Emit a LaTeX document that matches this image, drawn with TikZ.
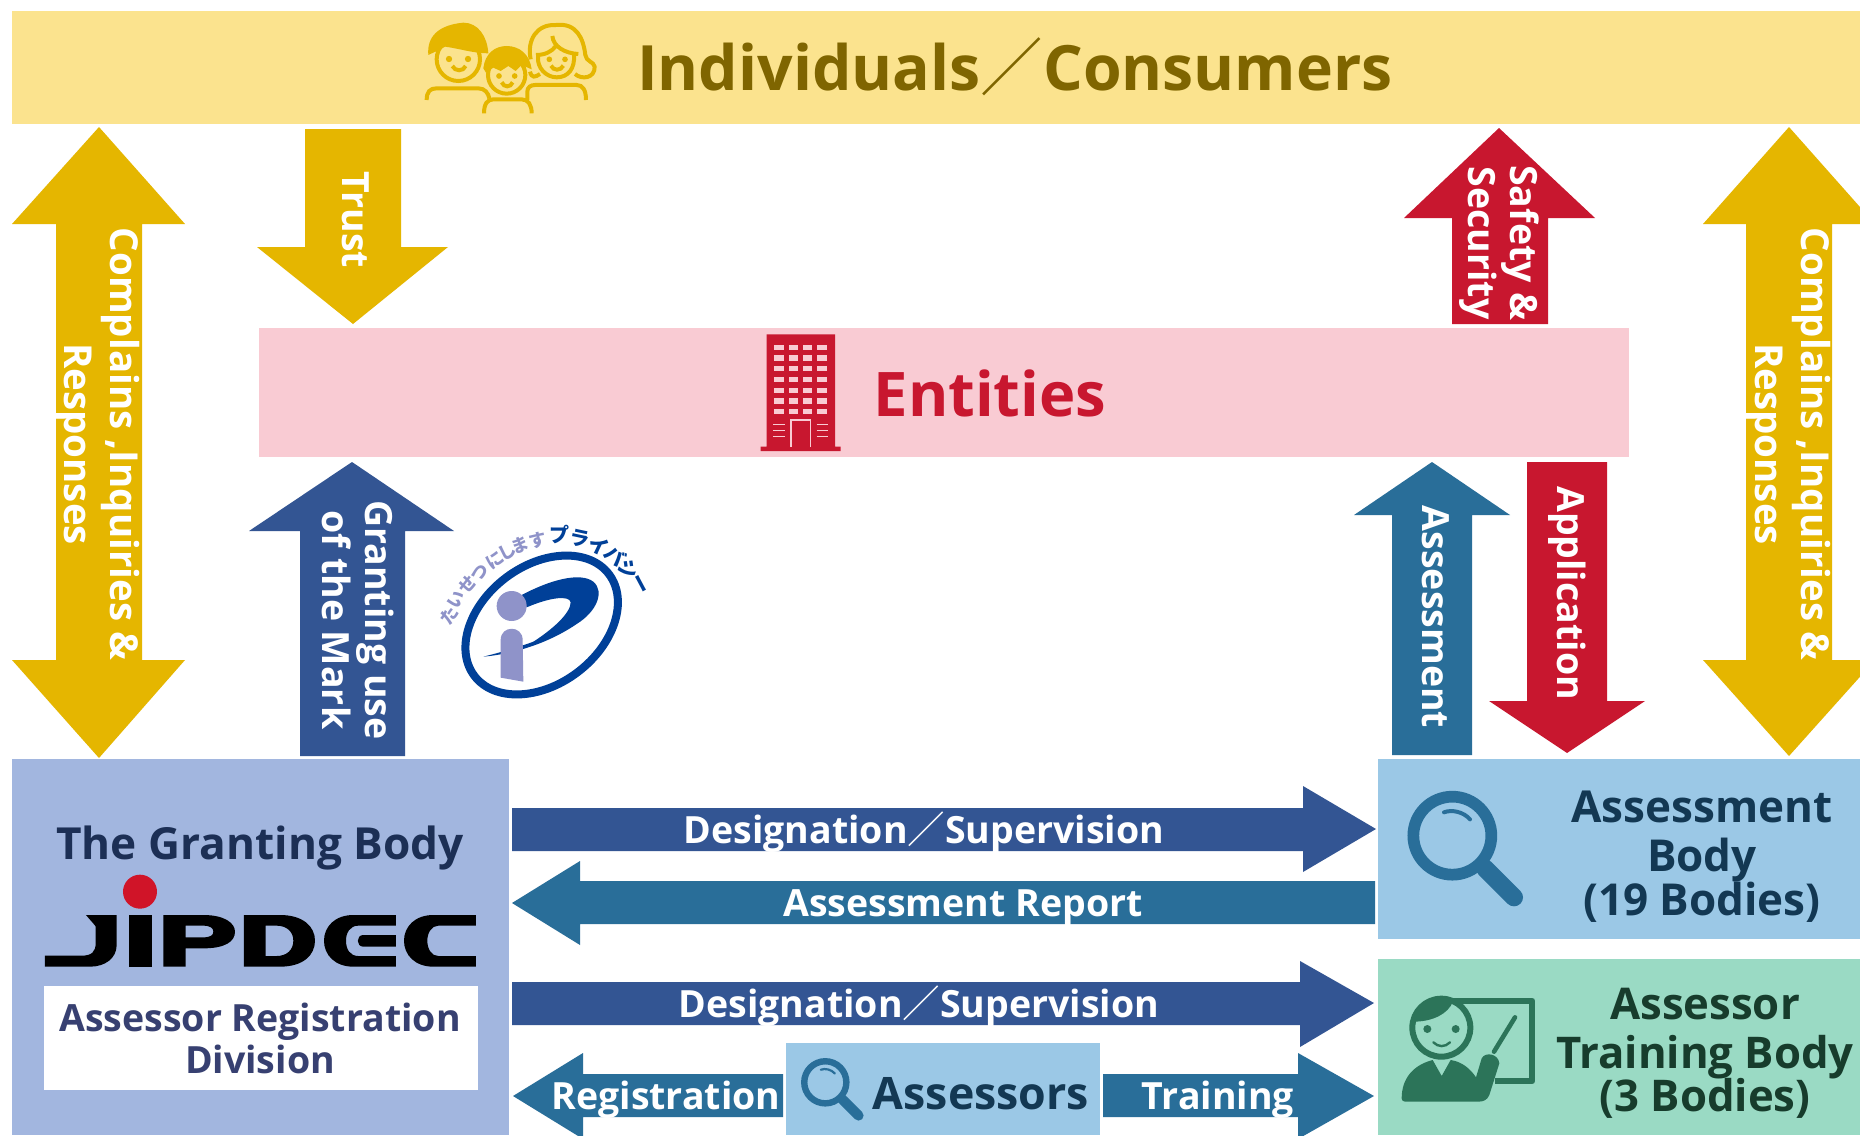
\documentclass[tikz,border=0pt]{standalone}
\usepackage{fontspec}
\setmainfont{Open Sans}
\newfontfamily\cjk{Noto Sans CJK JP}
\definecolor{cband}{HTML}{FBE38E}
\definecolor{cbandtx}{HTML}{7F6500}
\definecolor{cgold}{HTML}{E5B600}
\definecolor{cpink}{HTML}{F9CBD3}
\definecolor{cred}{HTML}{C8172F}
\definecolor{cnavy}{HTML}{335593}
\definecolor{cteal}{HTML}{296E99}
\definecolor{cgrant}{HTML}{A2B6DF}
\definecolor{cassess}{HTML}{9BC8E6}
\definecolor{ctrain}{HTML}{9ADAC4}
\definecolor{cgreen}{HTML}{2C7459}
\definecolor{tgrant}{HTML}{1C2F55}
\definecolor{treg}{HTML}{374071}
\definecolor{tassess}{HTML}{133853}
\definecolor{ttrain}{HTML}{173C2C}
\definecolor{pblue}{HTML}{004098}
\definecolor{ppurple}{HTML}{8F93C9}
\newcommand{\fsz}[1]{\fontsize{#1}{#1}\selectfont\bfseries}
\newcommand{\zslash}{{\cjk\mdseries ／}}
\tikzset{
  panel/.style={anchor=north west,inner sep=0pt,outer sep=0pt},
  lab/.style={inner sep=0pt,outer sep=0pt,align=center,text depth=0pt},
  wlab/.style={lab,text=white,font=\fsz{37.5}},
  vlab/.style={wlab,rotate=-90},
}
\begin{document}
\begin{tikzpicture}[x=1pt,y=-1pt]
\clip (0,0) rectangle (1860,1135);
\fill[white] (0,0) rectangle (1860,1135);
% panels
\node[panel,fill=cband,minimum width=1848pt,minimum height=113pt] (band) at (12,11) {};
\node[panel,fill=cpink,minimum width=1370pt,minimum height=129pt] (entitiesbox) at (259,328) {};
\node[panel,fill=cgrant,minimum width=497pt,minimum height=376pt] (grant) at (12,759) {};
\node[panel,fill=cassess,minimum width=482pt,minimum height=180pt] (assess) at (1378,759) {};
\node[panel,fill=ctrain,minimum width=482pt,minimum height=176pt] (train) at (1378,959) {};
\node[panel,fill=cassess,minimum width=314pt,minimum height=92pt] (assessors) at (786,1043) {};
\node[panel,fill=white,minimum width=434pt,minimum height=104pt] (regbox) at (44,986) {};
% block arrows
\fill[cgold] (99,127)--(185,224)--(142,224)--(142,660)--(185,660)--(99,758)--(12,660)--(56,660)--(56,224)--(12,224)--cycle;
\fill[cgold] (1789,127)--(1875,224)--(1832,224)--(1832,660)--(1875,660)--(1789,756)--(1703,660)--(1746,660)--(1746,224)--(1703,224)--cycle;
\fill[cgold] (305,129)--(401,129)--(401,247)--(448,247)--(353,324)--(257,247)--(305,247)--cycle;
\fill[cred] (1499,128)--(1595,218)--(1548,218)--(1548,324)--(1452,324)--(1452,218)--(1404,218)--cycle;
\fill[cnavy] (352,462)--(454,531)--(405,531)--(405,756)--(300,756)--(300,531)--(249,531)--cycle;
\fill[cteal] (1432,462)--(1510,515)--(1472,515)--(1472,755)--(1392,755)--(1392,515)--(1354,515)--cycle;
\fill[cred] (1527,462)--(1607,462)--(1607,701)--(1645,701)--(1567,753)--(1489,701)--(1527,701)--cycle;
\fill[cnavy] (512,808)--(1303,808)--(1303,786)--(1376,829)--(1303,872)--(1303,851)--(512,851)--cycle;
\fill[cteal] (512,903)--(580,861)--(580,881)--(1375,881)--(1375,924)--(580,924)--(580,945)--cycle;
\fill[cnavy] (512,982)--(1300,982)--(1300,961)--(1374,1003)--(1300,1047)--(1300,1025)--(512,1025)--cycle;
\fill[cteal] (513,1096)--(583,1053)--(583,1074)--(783,1074)--(783,1117)--(583,1117)--(583,1139)--cycle;
\fill[cteal] (1103,1074)--(1298,1074)--(1298,1053)--(1374,1096)--(1298,1139)--(1298,1117)--(1103,1117)--cycle;
% family icon
\begin{scope}[shift={(400,0)},scale=1/3,cgold,line width=4pt,line cap=butt]
 \draw (175,178) circle (65);
 \fill (85,165) .. controls (80,110) and (115,75) .. (190,68) .. controls (235,68) and (262,110) .. (265,160) .. controls (220,160) and (175,145) .. (135,140) .. controls (120,150) and (105,155) .. (85,165) -- cycle;
 \fill (147,177) circle (9.5) (204,177) circle (9.5);
 \draw (157,198) .. controls (165,215) and (190,215) .. (197,198);
 \draw (80,300) .. controls (80,275) and (90,265) .. (110,265) -- (235,265) .. controls (255,265) and (265,280) .. (268,295);
 \draw[fill=cband] (320,225) circle (56);
 \fill (250,205) .. controls (255,160) and (285,138) .. (320,138) .. controls (360,138) and (390,165) .. (395,208) -- (365,195) -- (347,213) -- (325,198) -- (302,213) -- (280,203) -- (258,218) -- cycle;
 \fill (297,228) circle (8.5) (344,228) circle (8.5);
 \draw (305,247) .. controls (312,263) and (332,263) .. (338,247);
 \draw (252,340) .. controls (252,312) and (262,298) .. (280,298) -- (365,298) .. controls (385,298) and (395,315) .. (395,340);
 \draw (392,178) .. controls (380,120) and (410,72) .. (468,75) .. controls (530,68) and (550,115) .. (556,165) .. controls (558,185) and (582,185) .. (584,200) .. controls (585,235) and (545,240) .. (525,222);
 \draw (390,215) .. controls (395,235) and (405,232) .. (420,222);
 \draw (457,108) .. controls (460,140) and (495,160) .. (535,162);
 \draw (408,165) .. controls (435,165) and (455,155) .. (468,138);
 \draw (414,168) .. controls (410,205) and (440,232) .. (470,232) .. controls (505,232) and (525,205) .. (522,165);
 \fill (448,178) circle (8.5) (495,178) circle (8.5);
 \draw (453,197) .. controls (460,213) and (482,213) .. (490,197);
 \draw (382,300) -- (382,275) .. controls (382,262) and (392,255) .. (405,255) -- (530,255) .. controls (548,255) and (558,270) .. (558,300);
\end{scope}
% building
\begin{scope}[shift={(740,320)},scale=1/3]
 \fill[cred] (80,43) rectangle (285,380) (62,380) rectangle (302,393);
 \foreach \wy in {75,106,138,170,203,235,266}
  \foreach \wx in {103,146,188,231}
   \fill[cpink] (\wx,\wy) rectangle +(29,16);
 \draw[cpink,line width=1.6pt] (153,380) -- (153,300) -- (211,300) -- (211,380);
 \draw[cpink,line width=1.6pt] (100,313) -- (134,313) (100,331) -- (134,331) (100,350) -- (134,350) (230,313) -- (264,313) (230,331) -- (264,331) (230,350) -- (264,350);
\end{scope}
% P mark
\begin{scope}[shift={(420,500)},scale=1/3]
 \draw[pblue,line width=8pt,rotate around={37:(365,375)}] (365,375) ellipse (253 and 178);
 \fill[pblue] (305,285) .. controls (390,240) and (480,215) .. (520,245) .. controls (555,275) and (530,335) .. (470,372) .. controls (400,420) and (300,460) .. (190,470) .. controls (250,455) and (300,440) .. (340,425) .. controls (395,390) and (452,340) .. (452,307) .. controls (448,285) and (390,292) .. (320,322) -- cycle;
 \fill[ppurple] (275,318) circle (45);
 \fill[ppurple] (242,533) -- (242,420) .. controls (242,375) and (308,375) .. (308,420) -- (310,545) -- cycle;
\end{scope}
\foreach \ch/\cx/\cy/\ca in {た/449/616/55,い/457/600/55,せ/467/585/48,つ/480/573/42,に/495/560/35,し/507/552/28,ま/520/545/22,す/538/540/12}
  \node[inner sep=0pt,text=ppurple,rotate=\ca,font=\fontsize{17.5}{17.5}\selectfont\cjk\bfseries] (lt\cx) at (\cx,\cy) {\ch};
\foreach \ch/\cx/\cy/\ca in {プ/559/535/0,ラ/580/539/-12,イ/599/546/-25,バ/615/556/-40,シ/629/569/-50,ー/638/585/-62}
  \node[inner sep=0pt,text=pblue,rotate=\ca,font=\fontsize{20}{20}\selectfont\cjk\bfseries] (dk\cx) at (\cx,\cy) {\ch};
% JIPDEC logo
\begin{scope}[shift={(0,750)},scale=1/3]
 \fill[black] (258,495) -- (350,495) -- (350,585) .. controls (350,625) and (315,650) .. (270,650) -- (135,650) -- (135,617) -- (245,617) .. controls (275,617) and (287,605) .. (287,580) -- (287,530) .. controls (287,527) and (270,510) .. (258,495) -- cycle;
 \fill[black] (388,495) rectangle (455,650);
 \fill[black,even odd rule] (490,495) -- (610,495) .. controls (675,495) and (705,520) .. (705,545) .. controls (705,575) and (675,595) .. (610,595) -- (557,595) -- (557,650) -- (490,650) -- cycle (557,527) -- (610,527) .. controls (632,527) and (640,535) .. (640,545) .. controls (640,555) and (632,562) .. (610,562) -- (557,562) -- cycle;
 \fill[black,even odd rule] (732,495) -- (840,495) .. controls (910,495) and (945,530) .. (945,572) .. controls (945,615) and (910,650) .. (840,650) -- (732,650) -- cycle (797,527) -- (830,527) .. controls (860,527) and (880,545) .. (880,572) .. controls (880,600) and (860,618) .. (830,618) -- (797,618) -- cycle;
 \fill[black] (1188,495) -- (1060,495) .. controls (1005,495) and (972,530) .. (972,572) .. controls (972,615) and (1005,650) .. (1060,650) -- (1188,650) -- (1188,618) -- (1075,618) .. controls (1050,618) and (1038,598) .. (1038,572) .. controls (1038,548) and (1050,527) .. (1075,527) -- (1188,527) -- cycle;
 \fill[black] (1188,555) -- (1090,555) .. controls (1068,555) and (1068,590) .. (1090,590) -- (1188,590) -- cycle;
 \fill[black] (1428,495) -- (1300,495) .. controls (1245,495) and (1212,530) .. (1212,572) .. controls (1212,615) and (1245,650) .. (1300,650) -- (1428,650) -- (1428,618) -- (1315,618) .. controls (1295,618) and (1282,598) .. (1282,572) .. controls (1282,548) and (1295,527) .. (1315,527) -- (1428,527) -- cycle;
 \fill[cred!85!red] (420,425) circle (51);
\end{scope}
% magnifier large
\begin{scope}[shift={(1370,750)},scale=1/3,cteal]
 \draw[line width=11.7pt] (247,257) circle (117);
 \draw[line width=18pt,line cap=round] (345,355) -- (432,442);
 \draw[line width=4pt,line cap=round] (222,187) .. controls (245,178) and (280,185) .. (300,208);
\end{scope}
% magnifier small
\begin{scope}[shift={(801,1058)},scale=0.18,cteal]
 \begin{scope}[shift={(-112,-122)}]
 \draw[line width=6.4pt] (247,257) circle (117);
 \draw[line width=10pt,line cap=round] (345,355) -- (432,442);
 \draw[line width=2.2pt,line cap=round] (222,187) .. controls (245,178) and (280,185) .. (300,208);
 \end{scope}
\end{scope}
% teacher
\begin{scope}[shift={(1370,750)},scale=1/3,cgreen]
 \draw[line width=6pt,line join=round] (240,752) -- (487,752) -- (487,993) -- (375,993);
 \draw[line width=6pt,fill=ctrain] (214,833) circle (87);
 \fill (130,815) .. controls (135,770) and (175,745) .. (214,745) .. controls (228,745) and (240,750) .. (248,756) .. controls (235,790) and (190,815) .. (130,815) -- cycle;
 \fill (172,837) circle (12) (257,837) circle (12);
 \draw[line width=2.4pt,line cap=round] (190,877) .. controls (205,892) and (225,892) .. (240,877);
 \fill[line join=round] (95,1045) .. controls (95,985) and (130,945) .. (188,930) -- (215,978) -- (242,930) .. controls (275,935) and (300,955) .. (318,982) -- (335,925) .. controls (345,905) and (385,910) .. (388,940) -- (358,1035) .. controls (352,1050) and (340,1055) .. (325,1055) -- (105,1055) .. controls (98,1055) and (95,1050) .. (95,1045) -- cycle;
 \draw[line width=4.6pt,line cap=round] (372,905) -- (435,802);
\end{scope}
% texts
\node[lab,text=cbandtx,font=\fsz{62.5}] (indiv) at (1015,64) {Individuals\zslash Consumers};
\node[lab,text=cred,font=\fsz{61.5}] (entities) at (990,393) {Entities};
\node[lab,text=tgrant,font=\fsz{44.2}] (granting) at (260,843) {The Granting Body};
\node[lab,text=treg,font=\fsz{37.5}] (regdiv) at (260,1038) {Assessor Registration\\[4pt]Division};
\node[lab,text=tassess,font=\fsz{44}] (assesstx) at (1702,853) {Assessment\\[5pt]Body\\[0pt](19 Bodies)};
\node[lab,text=ttrain,font=\fsz{43.7}] (traintx) at (1705,1050) {Assessor\\[5pt]Training Body\\[0pt](3 Bodies)};
\node[lab,text=tassess,font=\fsz{44.7}] (assessorstx) at (981,1093) {Assessors};
\node[wlab] (des1) at (924,828) {Designation\zslash Supervision};
\node[wlab] (rep) at (963,903) {Assessment Report};
\node[wlab] (des2) at (919,1002) {Designation\zslash Supervision};
\node[wlab] (regi) at (666,1095) {Registration};
\node[wlab] (trai) at (1218,1095) {Training};
\node[vlab,font=\fsz{38.5}] (cl) at (102,444) {Complains ,Inquiries \&\\[7pt]Responses};
\node[vlab,font=\fsz{38.5}] (cr) at (1793,444) {Complains ,Inquiries \&\\[7pt]Responses};
\node[vlab] (trust) at (356,220) {Trust};
\node[vlab] (safety) at (1504,243) {Safety \&\\[4pt]Security};
\node[vlab] (mark) at (358,620) {Granting use\\[4pt]of the Mark};
\node[vlab] (asm) at (1436,617) {Assessment};
\node[vlab] (app) at (1572,593) {Application};
\end{tikzpicture}
\end{document}
